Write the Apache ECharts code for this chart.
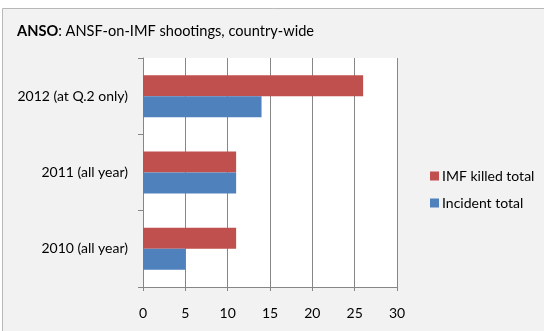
<!DOCTYPE html>
<html><head><meta charset="utf-8">
<script src="https://cdn.jsdelivr.net/npm/echarts@6/dist/echarts.min.js"></script>
<style>html,body{margin:0;padding:0;background:#fff}#c{width:544px;height:331px}</style>
</head><body><div id="c"></div>
<script>
var categories = ['2010 (all year)', '2011 (all year)', '2012 (at Q.2 only)'];
var imfKilled = [11, 11, 26];
var incidents = [5, 11, 14];
var xTicks = [0, 5, 10, 15, 20, 25, 30];
var seriesNames = ['IMF killed total', 'Incident total'];

var chart = echarts.init(document.getElementById('c'), null, {renderer: 'canvas'});
var font = 'Lato';
chart.setOption({
  animation: false,
  backgroundColor: '#ffffff',
  graphic: [
    {type: 'rect', z: -10, shape: {x: 2.5, y: 8.5, width: 560, height: 340},
     style: {fill: '#f2f2f2', stroke: '#b8b8b8', lineWidth: 1}},
    {type: 'rect', z: -9, shape: {x: 143, y: 58, width: 254, height: 229},
     style: {fill: '#ffffff'}},
    {type: 'text', left: 17, top: 24, style: {
      rich: {b: {fontWeight: 'bold', fontSize: 14.6, fontFamily: font, fill: '#000'},
             n: {fontSize: 14.6, fontFamily: font, fill: '#000'}},
      text: '{b|ANSO}{n|: ANSF-on-IMF shootings, country-wide}'}}
  ],
  legend: {
    orient: 'vertical', left: 430, top: 169, padding: 0, itemWidth: 9, itemHeight: 9, itemGap: 13,
    icon: 'rect',
    textStyle: {fontFamily: font, fontSize: 14, color: '#000', padding: [0,0,0,-2]},
    data: seriesNames
  },
  grid: {left: 143, right: 147, top: 58, bottom: 44, containLabel: false},
  xAxis: {
    type: 'value', min: 0, max: 30, interval: 5,
    axisLine: {show: true, lineStyle: {color: '#868686'}},
    axisTick: {show: true, length: 4, lineStyle: {color: '#868686'}},
    axisLabel: {fontFamily: font, fontSize: 14, color: '#000', margin: 19},
    splitLine: {show: true, lineStyle: {color: '#868686'}}
  },
  yAxis: {
    type: 'category', data: categories,
    axisLine: {show: true, lineStyle: {color: '#868686'}},
    axisTick: {show: true, length: 5, lineStyle: {color: '#868686'}},
    axisLabel: {fontFamily: font, fontSize: 14, color: '#000', margin: 15}
  },
  series: [
    {name: seriesNames[0], type: 'bar', data: imfKilled, barWidth: 21, barGap: '0%',
     itemStyle: {color: '#c0504d'}},
    {name: seriesNames[1], type: 'bar', data: incidents, barWidth: 21, barGap: '0%',
     itemStyle: {color: '#4f81bd'}}
  ]
});
</script></body></html>
